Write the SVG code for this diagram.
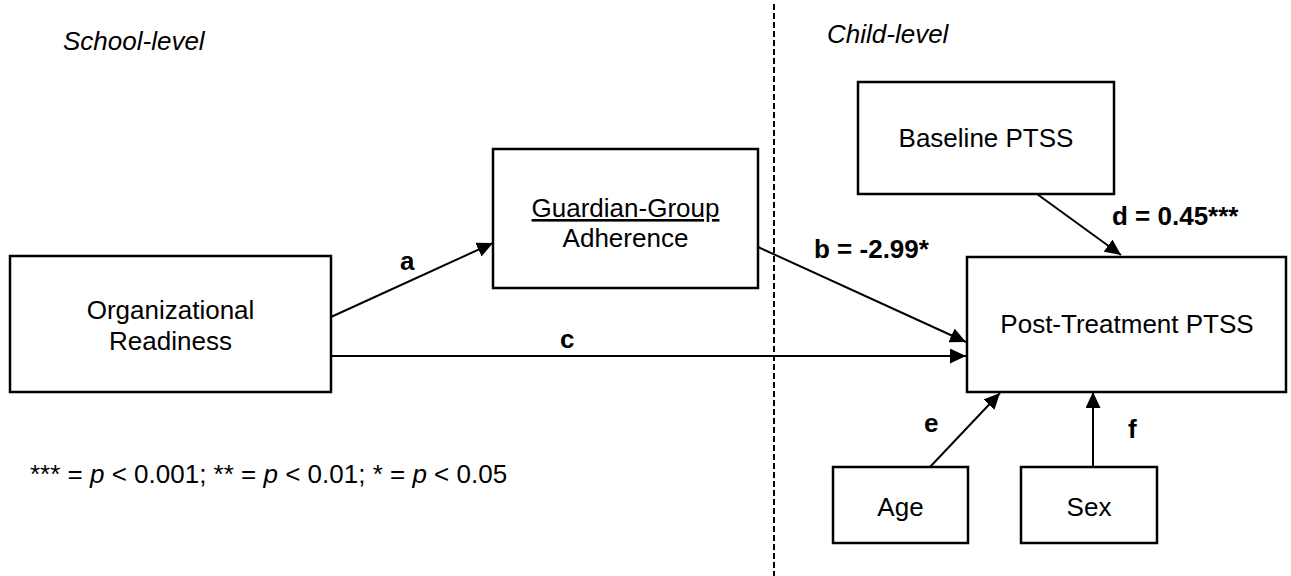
<svg xmlns="http://www.w3.org/2000/svg" width="1291" height="576" viewBox="0 0 1291 576">
  <style>
    .box { fill: #ffffff; stroke: #000000; stroke-width: 2.5; }
    .lbl { font-family: "Liberation Sans", Arial, sans-serif; font-size: 26px; fill: #000000; text-anchor: middle; }
    .path-lbl { font-family: "Liberation Sans", Arial, sans-serif; font-size: 26px; font-weight: bold; fill: #000000; }
    .level { font-family: "Liberation Sans", Arial, sans-serif; font-size: 26px; font-style: italic; fill: #000000; }
    .note { font-family: "Liberation Sans", Arial, sans-serif; font-size: 26px; fill: #000000; }
    .edge { stroke: #000000; stroke-width: 2; fill: none; marker-end: url(#arrow); }
    .divider { stroke: #000000; stroke-width: 2; stroke-dasharray: 6 3; }
  </style>
  <defs>
    <marker id="arrow" markerUnits="userSpaceOnUse" markerWidth="16" markerHeight="15" refX="16" refY="7.5" orient="auto">
      <path d="M0,0 L16,7.5 L0,15 Z" fill="#000000"/>
    </marker>
  </defs>

  <rect width="1291" height="576" fill="#ffffff"/>

  <!-- level divider -->
  <line class="divider" x1="774" y1="4" x2="774" y2="576"/>
  <text class="level" x="63" y="50">School-level</text>
  <text class="level" x="827" y="43">Child-level</text>

  <!-- connectors -->
  <g id="connectors">
    <line class="edge" x1="331" y1="317" x2="493" y2="243"/>
    <line class="edge" x1="331" y1="356" x2="966" y2="356"/>
    <line class="edge" x1="758" y1="247" x2="966" y2="342"/>
    <line class="edge" x1="1037" y1="194" x2="1121" y2="255"/>
    <line class="edge" x1="930" y1="467" x2="1000" y2="393"/>
    <line class="edge" x1="1093" y1="467" x2="1093" y2="392"/>
    <text class="path-lbl" x="400" y="270">a</text>
    <text class="path-lbl" x="560" y="348">c</text>
    <text class="path-lbl" x="814" y="258">b = -2.99*</text>
    <text class="path-lbl" x="1112" y="225">d = 0.45***</text>
    <text class="path-lbl" x="924" y="432">e</text>
    <text class="path-lbl" x="1128" y="438">f</text>
  </g>

  <g id="organizational-readiness">
    <rect class="box" x="10" y="256" width="321" height="136"/>
    <text class="lbl" x="170.5" y="319">Organizational</text>
    <text class="lbl" x="170.5" y="350">Readiness</text>
  </g>

  <g id="guardian-group-adherence">
    <rect class="box" x="493" y="149" width="265" height="139"/>
    <text class="lbl" x="625.5" y="217" text-decoration="underline">Guardian-Group</text>
    <text class="lbl" x="625.5" y="247">Adherence</text>
  </g>

  <g id="baseline-ptss">
    <rect class="box" x="858" y="82" width="256" height="112"/>
    <text class="lbl" x="986" y="147">Baseline PTSS</text>
  </g>

  <g id="post-treatment-ptss">
    <rect class="box" x="967" y="257" width="319" height="135"/>
    <text class="lbl" x="1127" y="333">Post-Treatment PTSS</text>
  </g>

  <g id="age">
    <rect class="box" x="833" y="467" width="135" height="76"/>
    <text class="lbl" x="900.5" y="516">Age</text>
  </g>

  <g id="sex">
    <rect class="box" x="1021" y="467" width="136" height="76"/>
    <text class="lbl" x="1089" y="516">Sex</text>
  </g>

  <text class="note" x="30" y="483">*** = <tspan font-style="italic">p</tspan> &lt; 0.001; ** = <tspan font-style="italic">p</tspan> &lt; 0.01; * = <tspan font-style="italic">p</tspan> &lt; 0.05</text>
</svg>
